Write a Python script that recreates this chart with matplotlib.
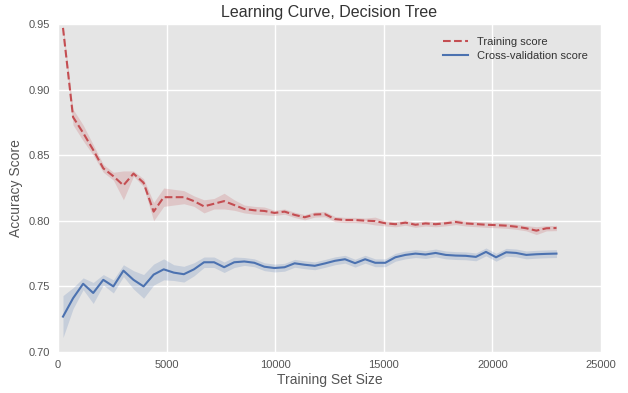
import numpy as np
import matplotlib
matplotlib.use("Agg")
import matplotlib.pyplot as plt

train_sizes = np.linspace(229, 22950, 50)

train_mean = [0.947, 0.879, 0.867, 0.854, 0.840, 0.834, 0.827, 0.836, 0.829, 0.807,
              0.818, 0.818, 0.818, 0.815, 0.811, 0.813, 0.815, 0.812, 0.809, 0.808,
              0.8075, 0.806, 0.807, 0.8045, 0.8027, 0.8048, 0.8051, 0.8013, 0.8006, 0.8006,
              0.8001, 0.7998, 0.7981, 0.7974, 0.7986, 0.797, 0.798, 0.7974, 0.7981, 0.7991,
              0.798, 0.7975, 0.797, 0.7967, 0.7963, 0.7955, 0.7943, 0.7925, 0.7943, 0.7945]
train_std = [0.002, 0.006, 0.006, 0.004, 0.003, 0.003, 0.011, 0.002, 0.003, 0.007,
             0.007, 0.006, 0.005, 0.004, 0.005, 0.004, 0.006, 0.004, 0.003, 0.003,
             0.003, 0.002, 0.002, 0.002, 0.002, 0.002, 0.002, 0.002, 0.002, 0.002,
             0.002, 0.003, 0.002, 0.002, 0.002, 0.002, 0.002, 0.002, 0.002, 0.002,
             0.002, 0.002, 0.002, 0.002, 0.002, 0.002, 0.002, 0.003, 0.002, 0.002]

cv_mean = [0.727, 0.741, 0.752, 0.745, 0.755, 0.750, 0.762, 0.755, 0.750, 0.759,
           0.763, 0.7605, 0.7593, 0.763, 0.7684, 0.7684, 0.7646, 0.7684, 0.769, 0.768,
           0.765, 0.764, 0.7646, 0.7676, 0.7665, 0.7657, 0.7675, 0.7695, 0.7707, 0.7677,
           0.7707, 0.768, 0.768, 0.7722, 0.774, 0.775, 0.7743, 0.7755, 0.774, 0.7735,
           0.7733, 0.7725, 0.7763, 0.7722, 0.776, 0.7755, 0.774, 0.7745, 0.7748, 0.775]
cv_std = [0.016, 0.008, 0.0045, 0.008, 0.004, 0.005, 0.0045, 0.007, 0.009, 0.008,
          0.008, 0.006, 0.006, 0.005, 0.004, 0.004, 0.004, 0.004, 0.003, 0.003,
          0.003, 0.003, 0.003, 0.003, 0.003, 0.003, 0.003, 0.003, 0.003, 0.003,
          0.003, 0.003, 0.003, 0.003, 0.003, 0.003, 0.003, 0.003, 0.003, 0.003,
          0.003, 0.003, 0.003, 0.003, 0.003, 0.003, 0.003, 0.003, 0.003, 0.003]

x_ticks = [0, 5000, 10000, 15000, 20000, 25000]
y_ticks = [0.70, 0.75, 0.80, 0.85, 0.90, 0.95]

red = "#C44E52"
blue = "#4C72B0"

plt.rcParams['font.family'] = ['Liberation Sans', 'DejaVu Sans']

fig = plt.figure(figsize=(6.28, 3.93), dpi=100)
ax = fig.add_axes([0.0924, 0.1043, 0.8646, 0.8347])
ax.set_facecolor("#E5E5E5")
for s in ax.spines.values():
    s.set_visible(False)
ax.grid(True, color="white", linewidth=1.0)
ax.set_axisbelow(True)

tm = np.array(train_mean); ts = np.array(train_std)
cm = np.array(cv_mean); cs = np.array(cv_std)

ax.fill_between(train_sizes, tm - ts, tm + ts, color=red, alpha=0.2, linewidth=0)
ax.fill_between(train_sizes, cm - cs, cm + cs, color=blue, alpha=0.2, linewidth=0)
ax.plot(train_sizes, tm, "--", color=red, linewidth=1.5, label="Training score")
ax.plot(train_sizes, cm, "-", color=blue, linewidth=1.5, label="Cross-validation score")

ax.set_xlim(0, 25000)
ax.set_ylim(0.70, 0.95)
ax.set_xticks(x_ticks)
ax.set_yticks(y_ticks)
ax.set_yticklabels([f"{v:.2f}" for v in y_ticks])
ax.tick_params(length=0, labelsize=8, colors="#555555", pad=6)

ax.set_xlabel("Training Set Size", fontsize=10, color="#555555", labelpad=2)
ax.set_ylabel("Accuracy Score", fontsize=10, color="#555555", labelpad=4)
ax.set_title("Learning Curve, Decision Tree", fontsize=11.5, color="#333333", pad=5)

leg = ax.legend(loc="upper right", frameon=False, fontsize=8, handlelength=2.2,
                borderaxespad=0.8, labelspacing=0.35)
for t in leg.get_texts():
    t.set_color("#333333")

fig.savefig("out.png", dpi=100)
